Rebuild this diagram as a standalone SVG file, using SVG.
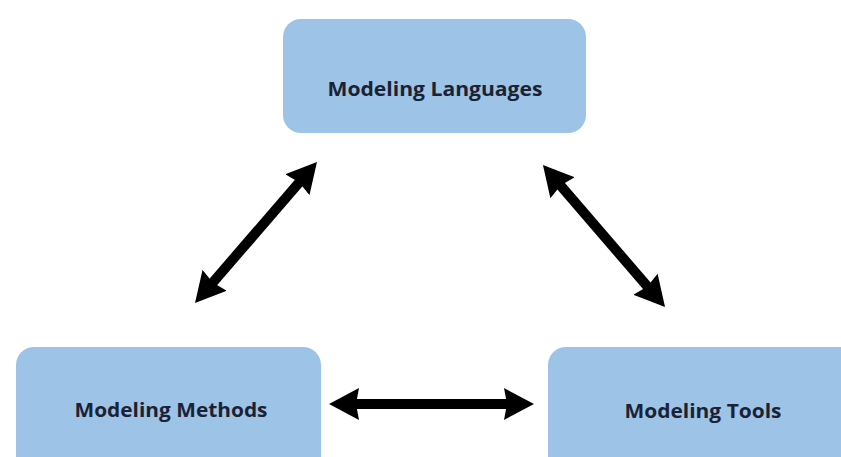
<svg xmlns="http://www.w3.org/2000/svg" width="841" height="457" viewBox="0 0 841 457">
<style>
.box{fill:#9dc3e6;}
.lbl{font-family:"Open Sans","Liberation Sans",sans-serif;font-weight:bold;font-size:20px;fill:#1b2233;text-anchor:middle;}
.arr{stroke:#000;stroke-width:10;fill:none;marker-start:url(#head);marker-end:url(#head);}
</style>
<defs>
<marker id="head" markerUnits="userSpaceOnUse" markerWidth="32" markerHeight="34" refX="10" refY="16" orient="auto-start-reverse" viewBox="0 0 32 32">
<path d="M0,0 L30,16 L0,32 L3,16 Z" fill="#000"/>
</marker>
</defs>
<rect width="841" height="457" fill="#ffffff"/>
<g id="languages">
<rect class="box" x="283" y="19" width="303" height="114" rx="18"/>
<text class="lbl" x="435" y="96" textLength="215" lengthAdjust="spacingAndGlyphs">Modeling Languages</text>
</g>
<g id="methods">
<rect class="box" x="16" y="347" width="305" height="140" rx="18"/>
<text class="lbl" x="171" y="417" textLength="193" lengthAdjust="spacingAndGlyphs">Modeling Methods</text>
</g>
<g id="tools">
<rect class="box" x="548" y="347" width="320" height="140" rx="18"/>
<text class="lbl" x="703" y="418" textLength="157" lengthAdjust="spacingAndGlyphs">Modeling Tools</text>
</g>
<g id="connectors">
<line class="arr" x1="208.1" y1="287.9" x2="303.9" y2="177.1"/>
<line class="arr" x1="556" y1="180.2" x2="652" y2="291.8"/>
<line class="arr" x1="349" y1="404" x2="514" y2="404"/>
</g>
</svg>
